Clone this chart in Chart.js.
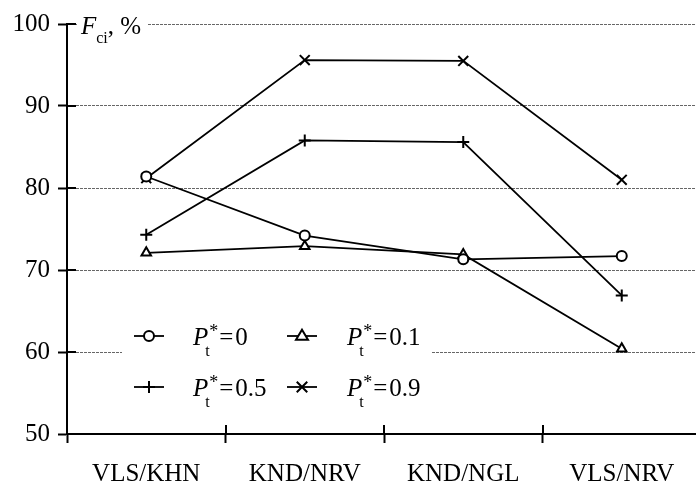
<!DOCTYPE html>
<html>
<head>
<meta charset="utf-8">
<script src="https://cdn.jsdelivr.net/npm/chart.js@4/dist/chart.umd.min.js"></script>
<style>
  html, body { margin: 0; padding: 0; background: #fff; overflow: hidden; }
  #wrap { width: 710px; height: 486px; }
</style>
</head>
<body>
<div id="wrap"><canvas id="chart" width="710" height="486"></canvas></div>
<script>
// Data
const categories = ['VLS/KHN', 'KND/NRV', 'KND/NGL', 'VLS/NRV'];
const pValues = ['0', '0.1', '0.5', '0.9'];
const seriesP0 = [81.4, 74.2, 71.3, 71.7];
const seriesP01 = [72.1, 72.9, 71.9, 60.4];
const seriesP05 = [74.3, 85.8, 85.6, 66.9];
const seriesP09 = [81.2, 95.6, 95.5, 81.0];
const yMin = 50, yMax = 100, yStep = 10;

const FONT = '"Liberation Serif", "Times New Roman", serif';

function makeSet(label, data, style, radius) {
  return {
    label: label,
    data: data,
    borderColor: '#000',
    borderWidth: 1.8,
    pointStyle: style,
    pointRadius: radius,
    pointHoverRadius: radius,
    pointBorderWidth: 2,
    pointBorderColor: '#000',
    pointBackgroundColor: '#fff',
    tension: 0,
    fill: false
  };
}

// draw a marker for the legend
function drawMarker(ctx, style, r, x, y) {
  ctx.save();
  ctx.strokeStyle = '#000';
  ctx.fillStyle = '#fff';
  ctx.lineWidth = 2;
  ctx.beginPath();
  if (style === 'circle') {
    ctx.arc(x, y, r, 0, Math.PI * 2);
    ctx.fill();
    ctx.stroke();
  } else if (style === 'triangle') {
    const s = r * 1.15;
    ctx.moveTo(x, y - s);
    ctx.lineTo(x + s * 0.95, y + s * 0.6);
    ctx.lineTo(x - s * 0.95, y + s * 0.6);
    ctx.closePath();
    ctx.fill();
    ctx.stroke();
  } else if (style === 'cross') {
    ctx.moveTo(x - r, y); ctx.lineTo(x + r, y);
    ctx.moveTo(x, y - r); ctx.lineTo(x, y + r);
    ctx.stroke();
  } else {
    const d = r * 0.75;
    ctx.moveTo(x - d, y - d); ctx.lineTo(x + d, y + d);
    ctx.moveTo(x + d, y - d); ctx.lineTo(x - d, y + d);
    ctx.stroke();
  }
  ctx.restore();
}

// P_t* = value
function drawPLabel(ctx, value, x, y) {
  ctx.save();
  ctx.fillStyle = '#000';
  ctx.textBaseline = 'alphabetic';
  ctx.textAlign = 'left';
  ctx.font = 'italic 25px ' + FONT;
  ctx.fillText('P', x, y);
  let cx = x + ctx.measureText('P').width;
  ctx.font = '16px ' + FONT;
  ctx.fillText('t', cx - 3, y + 11);
  ctx.font = '18px ' + FONT;
  ctx.fillText('*', cx + 1, y - 8);
  cx += ctx.measureText('*').width + 2;
  ctx.font = '25px ' + FONT;
  ctx.fillText('=', cx, y);
  cx += ctx.measureText('=').width + 2;
  ctx.fillText(value, cx, y);
  ctx.restore();
}

const overlayPlugin = {
  id: 'overlay',
  afterDraw(chart) {
    const ctx = chart.ctx;
    const xs = chart.scales.x;
    const ys = chart.scales.y;
    const area = chart.chartArea;

    ctx.save();
    ctx.strokeStyle = '#000';
    ctx.lineWidth = 2;
    // inward halves of the tick marks
    for (let v = yMin; v <= yMax; v += yStep) {
      const py = Math.round(ys.getPixelForValue(v));
      ctx.beginPath();
      ctx.moveTo(area.left, py);
      ctx.lineTo(area.left + 9, py);
      ctx.stroke();
    }
    for (let i = 1; i < categories.length; i++) {
      const px = Math.round(xs.getPixelForValue(i - 0.5));
      ctx.beginPath();
      ctx.moveTo(px, area.bottom);
      ctx.lineTo(px, area.bottom - 9);
      ctx.stroke();
    }
    ctx.restore();

    // axis title F_ci, %
    ctx.save();
    ctx.fillStyle = '#fff';
    ctx.fillRect(area.left + 10, area.top - 14, 70, 34);
    ctx.fillStyle = '#000';
    ctx.textBaseline = 'alphabetic';
    ctx.font = 'italic 25px ' + FONT;
    const tx = 81, ty = 34;
    ctx.fillText('F', tx, ty);
    let cx = tx + ctx.measureText('F').width;
    ctx.font = '16px ' + FONT;
    ctx.fillText('ci', cx, ty + 9);
    cx += ctx.measureText('ci').width;
    ctx.font = '25px ' + FONT;
    ctx.fillText(', %', cx, ty);
    ctx.restore();

    // legend
    ctx.save();
    ctx.fillStyle = '#fff';
    ctx.fillRect(122, 312, 310, 94);
    ctx.restore();
    const cols = [{ sym: 149, text: 193 }, { sym: 302, text: 347 }];
    const rows = [336, 387];
    chart.data.datasets.forEach((ds, i) => {
      const col = cols[i % 2];
      const row = rows[Math.floor(i / 2)];
      ctx.save();
      ctx.strokeStyle = '#000';
      ctx.lineWidth = 1.8;
      ctx.beginPath();
      ctx.moveTo(col.sym - 15, row);
      ctx.lineTo(col.sym + 15, row);
      ctx.stroke();
      ctx.restore();
      drawMarker(ctx, ds.pointStyle, ds.pointRadius, col.sym, row);
      drawPLabel(ctx, pValues[i], col.text, row + 9);
    });
  }
};

new Chart(document.getElementById('chart'), {
  type: 'line',
  data: {
    labels: categories,
    datasets: [
      makeSet('P0', seriesP0, 'circle', 5),
      makeSet('P0.1', seriesP01, 'triangle', 5.5),
      makeSet('P0.5', seriesP05, 'cross', 6),
      makeSet('P0.9', seriesP09, 'crossRot', 7)
    ]
  },
  options: {
    responsive: false,
    animation: false,
    layout: { padding: { top: 24, right: 3, left: 0, bottom: 0 } },
    plugins: {
      legend: { display: false },
      tooltip: { enabled: false }
    },
    scales: {
      x: {
        offset: true,
        grid: {
          offset: true,
          drawOnChartArea: false,
          tickLength: 9,
          tickWidth: 2,
          tickColor: '#000'
        },
        border: { display: true, color: '#000', width: 2 },
        ticks: {
          color: '#000',
          padding: 16,
          maxRotation: 0,
          font: { family: FONT, size: 25 }
        },
        afterFit(scale) { scale.height = 52; }
      },
      y: {
        min: yMin,
        max: yMax,
        grid: {
          color: (c) => (c.tick && c.tick.value === yMin) ? 'rgba(0,0,0,0)' : '#666',
          lineWidth: 1,
          tickLength: 9,
          tickWidth: 2,
          tickColor: '#000',
          tickBorderDash: []
        },
        border: { display: true, color: '#000', width: 2, dash: [3, 1] },
        ticks: {
          stepSize: yStep,
          color: '#000',
          padding: 8,
          font: { family: FONT, size: 25 }
        },
        afterFit(scale) { scale.width = 67; }
      }
    }
  },
  plugins: [overlayPlugin]
});
</script>
</body>
</html>
